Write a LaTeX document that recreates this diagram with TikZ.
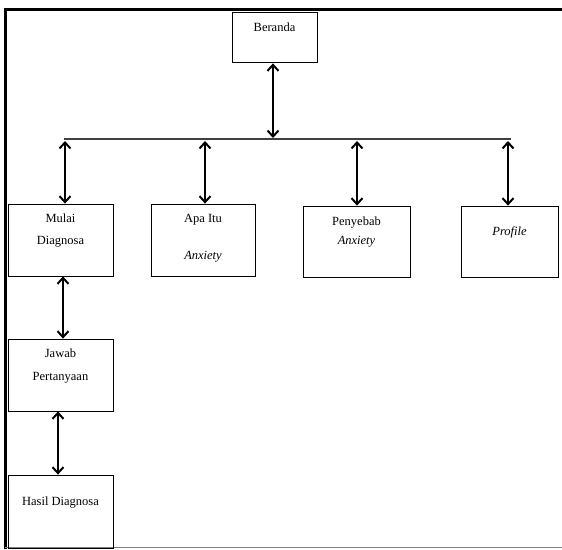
\documentclass[tikz,border=0pt]{standalone}
\usepackage{fontspec}
\setmainfont{Liberation Serif}
\usetikzlibrary{arrows.meta}

\begin{document}
\begin{tikzpicture}[x=1pt, y=-1pt,
  box/.style={draw, line width=0.8pt, inner sep=0pt},
  lbl/.style={anchor=base, inner sep=0pt, align=center, font=\fontsize{12.5}{14}\selectfont},
  link/.style={line width=2pt, {Straight Barb[length=6pt,width=11pt]}-{Straight Barb[length=6pt,width=11pt]}}]
\useasboundingbox (0,0) rectangle (562,549);
%Frame
\draw[line width=3pt] (5,549) -- (5,9) -- (562,9);
\draw[gray, line width=1pt] (5,547.5) -- (562,547.5);
%Level 0
\node[box, minimum width=85pt, minimum height=50pt] (beranda) at (274.5,37) {};
\node[lbl, yshift=-20pt] (berandatxt) at (beranda.north) {Beranda};
%Bus
\coordinate (busL) at (64,139);
\coordinate (busR) at (511,139);
\draw[black!75, line width=1.8pt] (busL) -- (busR);
\draw[link, shorten <=1pt, shorten >=1pt] ([xshift=-1.5pt]beranda.south) -- ([xshift=-1.5pt]beranda.south |- busL);
%Level 1 (base = last line)
\node[box, minimum width=105pt, minimum height=72pt] (mulai) at (60.5,240) {};
\node[lbl, yshift=-41pt] (mulaitxt) at (mulai.north) {Mulai\\[8pt]Diagnosa};
\node[box, minimum width=104pt, minimum height=72pt] (apa) at (203,240) {};
\node[lbl, yshift=-56pt] (apatxt) at (apa.north) {Apa Itu\\[23pt]\textit{Anxiety}};
\node[box, minimum width=107pt, minimum height=71pt] (penyebab) at (356.5,241.5) {};
\node[lbl, yshift=-39pt] (penyebabtxt) at (penyebab.north) {Penyebab\\[5pt]\textit{Anxiety}};
\node[box, minimum width=97pt, minimum height=71pt] (profile) at (509.5,241.5) {};
\node[lbl, yshift=-30pt] (profiletxt) at (profile.north) {\textit{Profile}};
\coordinate (b1) at (65,141);
\coordinate (b2) at (205,141);
\coordinate (b3) at (357,141);
\coordinate (b4) at (508,141);
\draw[link] (b1) -- (b1 |- mulai.north);
\draw[link] (b2) -- (b2 |- apa.north);
\draw[link] (b3) -- (b3 |- penyebab.north);
\draw[link] (b4) -- (b4 |- profile.north);
%Level 2
\node[box, minimum width=105pt, minimum height=72pt] (jawab) at (60.5,375) {};
\node[lbl, yshift=-42pt] (jawabtxt) at (jawab.north) {Jawab\\[9pt]Pertanyaan};
\node[box, minimum width=105pt, minimum height=73pt] (hasil) at (60.5,511.5) {};
\node[lbl, yshift=-31pt] (hasiltxt) at (hasil.north) {Hasil Diagnosa};
\draw[link] ([xshift=2.5pt]mulai.south) -- ([xshift=2.5pt]jawab.north);
\draw[link] ([xshift=-2.5pt]jawab.south) -- ([xshift=-2.5pt]hasil.north);
\end{tikzpicture}
\end{document}
